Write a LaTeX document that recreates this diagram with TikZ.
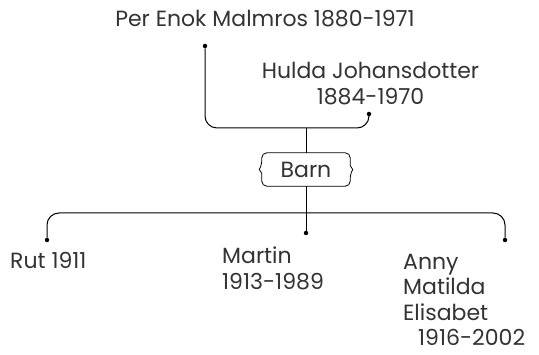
\documentclass[tikz,border=0pt]{standalone}
\usepackage{fontspec}
\setmainfont{Poppins}
\usetikzlibrary{positioning}
\colorlet{ink}{black!80}
\tikzset{
  person/.style = {text=ink, inner sep=0pt, font=\fontsize{22}{26}\selectfont},
  dot/.style = {circle, fill=black, inner sep=0pt, minimum size=4.5pt},
  link/.style = {line width=1pt, rounded corners=12pt}
}

\begin{document}
\begin{tikzpicture}[x=1pt,y=-1pt]
  \useasboundingbox (0,0) rectangle (539,355);
  \pgfmathsetmacro{\mx}{306};
  % parents
  \node[person,anchor=base] (per) at (265,27) {Per Enok Malmros 1880-1971};
  \node[person,anchor=base,align=center] (hulda) at (370.5,105) {Hulda Johansdotter\\1884-1970};
  \node[dot] (perdot) at (205,46) {};
  \node[dot] (huldadot) at (369,114) {};
  \coordinate (pj) at (\mx,128);
  \draw[link] (perdot) |- (pj) -| (huldadot);
  % barn box
  \node[person,minimum width=88pt,minimum height=33pt] (barn) at (\mx,169.5) {Barn};
  \draw[line width=0.8pt] ([yshift=4pt]barn.east) [rounded corners=5pt] -- (barn.north east)
    -- (barn.north west) -- ([yshift=4pt]barn.west) [sharp corners] -- ++(-2.5pt,-4pt)
    -- ++(2.5pt,-4pt) [rounded corners=5pt] -- (barn.south west) -- (barn.south east)
    -- ([yshift=-4pt]barn.east) [sharp corners] -- ++(2.5pt,4pt) -- cycle;
  \draw[link] (pj) -- (barn.north);
  % children
  \node[dot] (rutdot) at (47,240) {};
  \node[dot] (martindot) at (\mx,233) {};
  \node[dot] (annydot) at (505,240) {};
  \coordinate (kj) at (\mx,213);
  \draw[link] (barn.south) -- (martindot);
  \draw[link] (rutdot) |- (kj) -| (annydot);
  \node[person,anchor=base west] (rut) at (10,269) {Rut 1911};
  \node[person,anchor=base west,align=left] (martin) at (222,290) {Martin\\1913-1989};
  \node[person,anchor=base west,align=left,font=\fontsize{22}{25.5}\selectfont] (anny) at (403,346)
    {Anny\\Matilda\\Elisabet\\\hspace*{15pt}1916-2002};
\end{tikzpicture}
\end{document}
